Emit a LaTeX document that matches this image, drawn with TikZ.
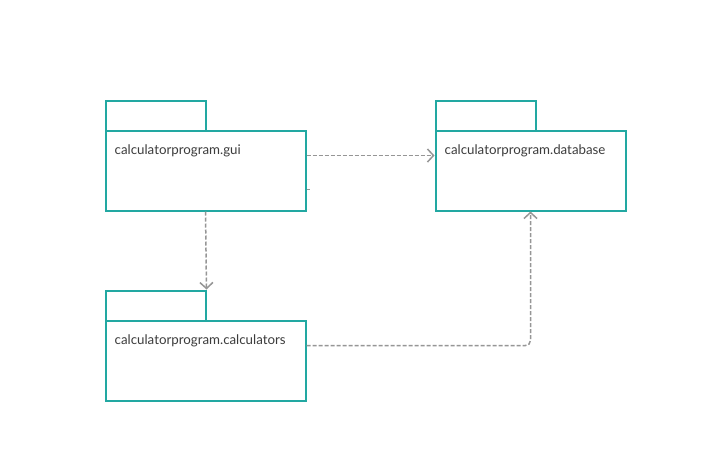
\documentclass[tikz,border=0pt]{standalone}
\usepackage{fontspec}
\setmainfont{Lato}
\usetikzlibrary{arrows.meta}
\definecolor{teal}{RGB}{34,168,162}
\definecolor{dashgray}{RGB}{150,150,150}
\definecolor{txtgray}{RGB}{60,60,60}
\begin{document}
\begin{tikzpicture}[x=1pt,y=-1pt,
  pkgbody/.style={draw=teal,line width=2pt,fill=white,anchor=north west,inner sep=0pt,minimum width=#1,minimum height=80pt},
  pkgtab/.style={draw=teal,line width=2pt,fill=white,anchor=north west,inner sep=0pt,minimum width=100pt,minimum height=30pt},
  pkgname/.style={anchor=west,inner sep=0pt,text=txtgray,font=\fontsize{13.3pt}{15pt}\selectfont},
  dep/.style={draw=dashgray,line width=1.5pt,dash pattern=on 4pt off 2pt,-{Straight Barb[length=6pt,width=13pt,line width=1.5pt]}}]
\useasboundingbox (0,0) rectangle (715,475);
\fill[white] (0,0) rectangle (715,475);
\begin{scope}[shift={(-0.5,-0.5)}]
% gui
\node[pkgtab] (guitab) at (105,100) {};
\node[pkgbody=200pt] (gui) at (105,130) {};
\node[pkgname] (guiname) at (115,151) {calculatorprogram.gui};
% database
\node[pkgtab] (dbtab) at (435,100) {};
\node[pkgbody=190pt] (db) at (435,130) {};
\node[pkgname] (dbname) at (445,151) {calculatorprogram.database};
% calculators
\node[pkgtab] (calctab) at (105,290) {};
\node[pkgbody=200pt] (calc) at (105,320) {};
\node[pkgname] (calcname) at (115,341) {calculatorprogram.calculators};
% dependencies
\draw[dep] ([yshift=15pt]gui.east) -- ([yshift=15pt]db.west);
\draw[dep] (gui.south) -- (calctab.north east);
\draw[dep,rounded corners=5pt] ([yshift=15pt]calc.east) -| (db.south);
\draw[dashgray,line width=1.5pt] ([yshift=-19pt]gui.east) -- ++(3,0);
\end{scope}
\end{tikzpicture}
\end{document}
